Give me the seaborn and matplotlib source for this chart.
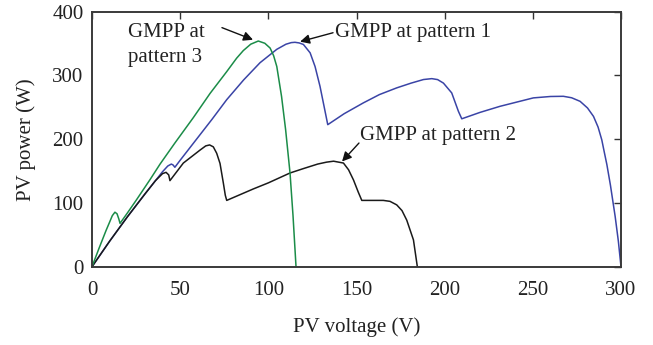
import matplotlib
matplotlib.use("Agg")
import matplotlib.pyplot as plt
import seaborn as sns
import pandas as pd

# Pattern 1 (blue)
v1 = [0, 10, 20, 30, 40, 43, 45, 46, 47, 50, 59, 68, 76.4, 86, 95.3, 104.8, 110, 113, 115.1, 117.5, 119.9,
      123.7, 126.5, 129.3, 131.6, 133.7, 143, 153.9, 163, 172.8, 181, 188, 192.7, 196, 199.3, 204, 207.8, 209.7,
      220, 231.4, 250.3, 260, 267.3, 272, 276.8, 281, 284.4, 287, 289.1, 290.5, 292, 294, 296.7, 298.5, 300]
p1 = [0, 40, 78, 114, 149, 158, 161, 159.5, 156, 167, 199, 231, 262, 293, 320, 341, 349, 351.5, 352, 351, 348.6,
      335.5, 314, 283, 251.6, 222.8, 240, 257, 270, 280.5, 288, 293.6, 295, 293.5, 288, 272.6, 243.7, 232,
      242, 251.6, 264.8, 267, 267.3, 265, 259.4, 249, 235.8, 219, 199, 180, 160, 128, 78.6, 40, 0]

# Pattern 2 (black)
v2 = [0, 10, 20, 30, 36, 40, 42, 43.5, 44.2, 51.8, 61.3, 64.5, 66.7, 68.8, 70.7, 72.6, 74.5, 75.6, 76.4,
      91.5, 100, 112.3, 120, 128, 133, 137, 142.6, 145.5, 148.3, 151, 153, 165.2, 169, 172.8, 175.8, 178.5,
      182.3, 184.5]
p2 = [0, 40, 78, 114, 135, 146, 148, 144, 135, 162.6, 183, 189.5, 191, 188, 178, 162, 131, 112, 104,
      122, 131.5, 147, 154, 161, 164, 165.5, 162.6, 152, 136, 117, 104, 104, 102.5, 97, 88, 73,
      42, 0]

# Pattern 3 (green)
v3 = [0, 4, 8, 10, 11.5, 13, 14.2, 15.2, 15.9, 20, 25, 33, 38.6, 47, 57.5, 67, 76.4, 82, 85.8, 90, 94.3, 98,
      101, 103, 104.8, 107.5, 109.8, 112.3, 114, 115.7]
p3 = [0, 29, 57, 70, 80, 85.5, 83, 75, 68, 84, 104, 137, 161, 194, 234, 272, 306, 327, 339, 349, 354, 350.5,
      343, 331, 314, 267, 215, 147, 80, 0]

xticks = [0, 50, 100, 150, 200, 250, 300]
yticks = [0, 100, 200, 300, 400]

BLUE = "#3a44a6"
GREEN = "#1b8c48"
BLACK = "#1a1a1a"
FONT = ["Liberation Serif", "DejaVu Serif"]
FS = 15

sns.set_style("white")
plt.rcParams["font.family"] = FONT
plt.rcParams["font.size"] = FS

fig = plt.figure(figsize=(6.53, 3.45), dpi=100)
ax = fig.add_axes([92 / 653, (345 - 266.7) / 345, 529 / 653, 255 / 345])

d1 = pd.DataFrame({"v": v1, "p": p1})
d2 = pd.DataFrame({"v": v2, "p": p2})
d3 = pd.DataFrame({"v": v3, "p": p3})
sns.lineplot(data=d1, x="v", y="p", ax=ax, color=BLUE, lw=1.1, sort=False, estimator=None)
sns.lineplot(data=d2, x="v", y="p", ax=ax, color=BLACK, lw=1.1, sort=False, estimator=None)
sns.lineplot(data=d3, x="v", y="p", ax=ax, color=GREEN, lw=1.1, sort=False, estimator=None)

ax.set_xlim(0, 300)
ax.set_ylim(0, 400)
ax.set_xticks(xticks)
ax.set_yticks(yticks)
ax.tick_params(direction="in", length=5, width=1.0, color="#333333",
               top=True, right=True, labelsize=FS, labelcolor="#222222")
ax.tick_params(axis="x", pad=10)
ax.tick_params(axis="y", pad=6)
for s in ax.spines.values():
    s.set_color("#3a3a3a")
    s.set_linewidth(1.4)

ax.set_xlabel("PV voltage (V)", fontsize=FS, color="#222222", labelpad=13)
ax.set_ylabel("PV power (W)", fontsize=FS, color="#222222", labelpad=12)

arrow = dict(arrowstyle="-|>", color="#111111", lw=1.0, mutation_scale=14, shrinkA=0, shrinkB=0)
ax.annotate("", xy=(91.3, 356), xytext=(73.7, 375), arrowprops=arrow)
ax.annotate("", xy=(118, 353), xytext=(136.7, 367), arrowprops=arrow)
ax.annotate("", xy=(141.8, 165), xytext=(151.4, 194), arrowprops=arrow)

ax.text(20.4, 348, "GMPP at\npattern 3", ha="left", va="center", fontsize=FS,
        color="#222222", linespacing=1.38)
ax.text(137.8, 361, "GMPP at pattern 1", ha="left", va="baseline", fontsize=FS, color="#222222")
ax.text(152, 199, "GMPP at pattern 2", ha="left", va="baseline", fontsize=FS, color="#222222")

fig.savefig("out.png", dpi=100)
